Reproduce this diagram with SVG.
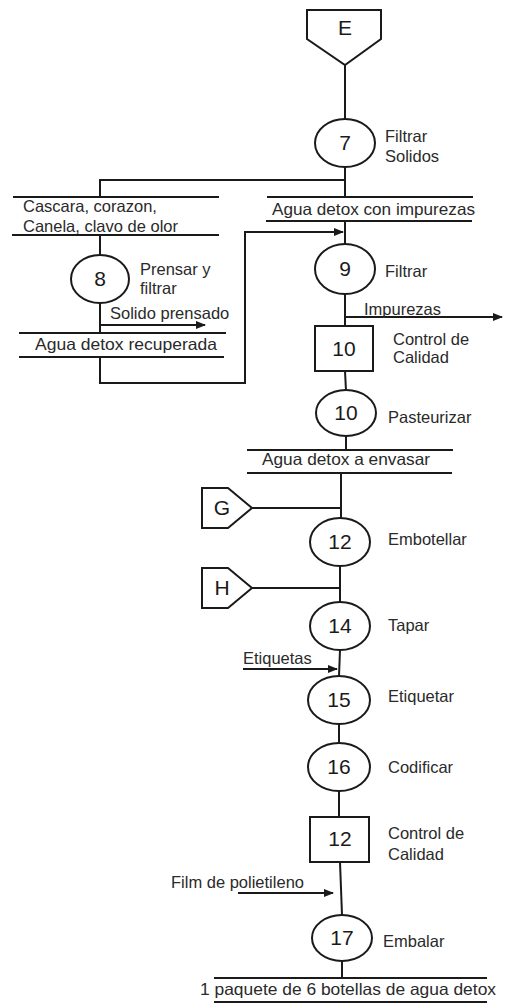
<svg xmlns="http://www.w3.org/2000/svg" width="509" height="1003" viewBox="0 0 509 1003">
<style>
.s{fill:none;stroke:#1a1a1a;stroke-width:2}
.n{fill:#fff;stroke:#1a1a1a;stroke-width:2}
.t{font-family:"Liberation Sans",Arial,sans-serif;font-size:16.5px;fill:#2a2a2a}
.num{font-family:"Liberation Sans",Arial,sans-serif;font-size:21px;fill:#1a1a1a;text-anchor:middle}
</style>
<defs>
<marker id="ah" markerWidth="10" markerHeight="8" refX="9" refY="4" orient="auto" markerUnits="userSpaceOnUse">
<path d="M0,0 L10,4 L0,8 Z" fill="#1a1a1a"/>
</marker>
</defs>
<rect width="509" height="1003" fill="#fff"/>
<g id="connectors">
<line class="s" x1="345" y1="65" x2="345" y2="119"/>
<polyline class="s" points="345,167 345,180 100,180 100,197"/>
<line class="s" x1="345" y1="180" x2="345" y2="197"/>
<line class="s" x1="13" y1="197" x2="219" y2="197"/>
<line class="s" x1="12" y1="235" x2="219" y2="235"/>
<line class="s" x1="267" y1="197" x2="473" y2="197"/>
<line class="s" x1="266" y1="221" x2="472" y2="221"/>
<line class="s" x1="345" y1="221" x2="345" y2="244"/>
<line class="s" x1="100" y1="235" x2="100" y2="255"/>
<line class="s" x1="100" y1="303" x2="100" y2="333"/>
<line class="s" x1="100" y1="325" x2="205" y2="325" marker-end="url(#ah)"/>
<line class="s" x1="19" y1="333" x2="226" y2="333"/>
<line class="s" x1="19" y1="357" x2="224" y2="357"/>
<polyline class="s" points="100,357 100,383 245,383 245,232 343,232" marker-end="url(#ah)"/>
<line class="s" x1="345" y1="294" x2="345" y2="326"/>
<line class="s" x1="345" y1="317" x2="502" y2="317" marker-end="url(#ah)"/>
<line class="s" x1="345" y1="371" x2="346" y2="391"/>
<line class="s" x1="346" y1="436" x2="346" y2="450"/>
<line class="s" x1="247" y1="450" x2="453" y2="450"/>
<line class="s" x1="247" y1="473" x2="452" y2="473"/>
<line class="s" x1="341" y1="473" x2="341" y2="518"/>
<line class="s" x1="252" y1="508" x2="341" y2="508"/>
<line class="s" x1="340" y1="566" x2="340" y2="602"/>
<line class="s" x1="252" y1="588" x2="340" y2="588"/>
<line class="s" x1="340" y1="650" x2="339" y2="676"/>
<line class="s" x1="243" y1="669" x2="337" y2="669" marker-end="url(#ah)"/>
<line class="s" x1="339" y1="724" x2="339" y2="743"/>
<line class="s" x1="339" y1="791" x2="339" y2="817"/>
<line class="s" x1="340" y1="862" x2="342" y2="915"/>
<line class="s" x1="238" y1="893" x2="333" y2="893" marker-end="url(#ah)"/>
<line class="s" x1="342" y1="961" x2="342" y2="978"/>
<line class="s" x1="214" y1="978" x2="487" y2="978"/>
<line class="s" x1="214" y1="1002" x2="487" y2="1002"/>
</g>
<g id="nodeE">
<polygon class="n" points="307,10 381,10 381,39 345,65 307,39"/>
<text class="num" x="345" y="35">E</text>
</g>
<g id="op7">
<ellipse class="n" cx="345" cy="143" rx="30" ry="24"/>
<text class="num" x="345" y="150">7</text>
<text class="t" x="385" y="142">Filtrar</text>
<text class="t" x="385" y="162">Solidos</text>
</g>
<g id="matCascara">
<text class="t" x="23" y="212">Cascara, corazon,</text>
<text class="t" x="23" y="232">Canela, clavo de olor</text>
</g>
<g id="matAgua1">
<text class="t" x="272" y="215" textLength="203" lengthAdjust="spacingAndGlyphs">Agua detox con impurezas</text>
</g>
<g id="op8">
<ellipse class="n" cx="100" cy="279" rx="29" ry="24"/>
<text class="num" x="100" y="286">8</text>
<text class="t" x="140" y="275">Prensar y</text>
<text class="t" x="140" y="294">filtrar</text>
</g>
<g id="matSolido">
<text class="t" x="110" y="319">Solido prensado</text>
</g>
<g id="matAgua2">
<text class="t" x="35" y="350" textLength="182" lengthAdjust="spacingAndGlyphs">Agua detox recuperada</text>
</g>
<g id="op9">
<ellipse class="n" cx="345" cy="269" rx="30" ry="25"/>
<text class="num" x="345" y="276">9</text>
<text class="t" x="385" y="277">Filtrar</text>
</g>
<g id="matImpurezas">
<text class="t" x="364" y="315">Impurezas</text>
</g>
<g id="insp10">
<rect class="n" x="315" y="326" width="58" height="45"/>
<text class="num" x="344" y="356">10</text>
<text class="t" x="393" y="345">Control de</text>
<text class="t" x="393" y="363">Calidad</text>
</g>
<g id="op10">
<ellipse class="n" cx="346" cy="413" rx="30" ry="23"/>
<text class="num" x="346" y="420">10</text>
<text class="t" x="388" y="423">Pasteurizar</text>
</g>
<g id="matAgua3">
<text class="t" x="262" y="465" textLength="168" lengthAdjust="spacingAndGlyphs">Agua detox a envasar</text>
</g>
<g id="nodeG">
<polygon class="n" points="202,488 228,488 252,508 228,528 202,528"/>
<text class="num" x="222" y="515">G</text>
</g>
<g id="op12">
<ellipse class="n" cx="340" cy="542" rx="30" ry="24"/>
<text class="num" x="340" y="549">12</text>
<text class="t" x="388" y="545">Embotellar</text>
</g>
<g id="nodeH">
<polygon class="n" points="202,568 228,568 252,588 228,608 202,608"/>
<text class="num" x="222" y="595">H</text>
</g>
<g id="op14">
<ellipse class="n" cx="340" cy="626" rx="30" ry="24"/>
<text class="num" x="340" y="633">14</text>
<text class="t" x="388" y="631">Tapar</text>
</g>
<g id="matEtiquetas">
<text class="t" x="243" y="664">Etiquetas</text>
</g>
<g id="op15">
<ellipse class="n" cx="339" cy="700" rx="31" ry="24"/>
<text class="num" x="339" y="707">15</text>
<text class="t" x="388" y="702">Etiquetar</text>
</g>
<g id="op16">
<ellipse class="n" cx="339" cy="767" rx="31" ry="24"/>
<text class="num" x="339" y="774">16</text>
<text class="t" x="388" y="773">Codificar</text>
</g>
<g id="insp12">
<rect class="n" x="310" y="817" width="59" height="45"/>
<text class="num" x="340" y="846">12</text>
<text class="t" x="388" y="839">Control de</text>
<text class="t" x="388" y="860">Calidad</text>
</g>
<g id="matFilm">
<text class="t" x="171" y="888">Film de polietileno</text>
</g>
<g id="op17">
<ellipse class="n" cx="342" cy="938" rx="30" ry="23"/>
<text class="num" x="342" y="945">17</text>
<text class="t" x="383" y="947">Embalar</text>
</g>
<g id="matPaquete">
<text class="t" x="200" y="995" textLength="296" lengthAdjust="spacingAndGlyphs">1 paquete de 6 botellas de agua detox</text>
</g>
</svg>
